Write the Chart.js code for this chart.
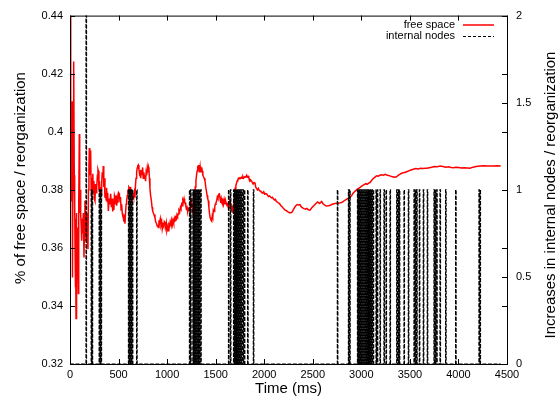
<!DOCTYPE html>
<html>
<head>
<meta charset="utf-8">
<script src="https://cdn.jsdelivr.net/npm/chart.js@4/dist/chart.umd.min.js"></script>
<style>
  body { margin: 0; background: #fff; }
  #wrap { width: 558px; height: 405px; position: relative; }
</style>
</head>
<body>
<div id="wrap"><canvas id="chart"></canvas></div>
<script>
// free space samples (time in ms, fraction of free space)
const timeMs = [
  0, 5, 10, 15, 21, 24, 27, 31, 35, 38, 41, 44, 48, 52, 55, 58, 62, 66, 69, 75,
  80, 86, 90, 96, 100, 105, 110, 115, 120, 125, 130, 137, 144, 150, 154, 160, 166, 172, 178, 185,
  190, 195, 199, 204, 208, 213, 218, 223, 230, 235, 240, 246, 250, 257, 263, 268, 275, 282, 288, 292,
  298, 303, 309, 315, 320, 326, 332, 338, 343, 348, 354, 360, 366, 372, 377, 383, 388, 395, 402, 410,
  419, 426, 433, 440, 446, 452, 458, 463, 470, 476, 481, 487, 494, 500, 508, 515, 520, 526, 532, 538,
  543, 549, 555, 560, 566, 572, 578, 583, 590, 596, 600, 606, 612, 618, 624, 630, 636, 642, 649, 655,
  662, 669, 675, 680, 686, 692, 698, 703, 710, 716, 722, 728, 734, 740, 748, 754, 760, 766, 772, 778,
  784, 790, 796, 802, 808, 813, 818, 823, 830, 837, 845, 851, 858, 865, 875, 882, 890, 898, 904, 909,
  916, 922, 930, 937, 944, 950, 958, 964, 971, 978, 985, 992, 998, 1005, 1012, 1018, 1025, 1032, 1040, 1047,
  1054, 1061, 1068, 1075, 1081, 1088, 1095, 1102, 1108, 1115, 1122, 1130, 1137, 1143, 1150, 1156, 1162, 1168, 1174, 1180,
  1186, 1192, 1198, 1205, 1212, 1220, 1229, 1236, 1245, 1253, 1260, 1265, 1270, 1276, 1283, 1290, 1297, 1303, 1309, 1315,
  1321, 1327, 1333, 1340, 1346, 1352, 1356, 1362, 1368, 1375, 1382, 1390, 1398, 1405, 1412, 1418, 1424, 1430, 1436, 1442,
  1448, 1454, 1459, 1465, 1470, 1476, 1483, 1490, 1496, 1503, 1510, 1517, 1524, 1531, 1538, 1545, 1552, 1558, 1565, 1572,
  1580, 1587, 1594, 1600, 1606, 1612, 1618, 1624, 1630, 1637, 1643, 1648, 1654, 1660, 1666, 1672, 1677, 1682, 1688, 1694,
  1700, 1708, 1716, 1722, 1728, 1735, 1742, 1750, 1758, 1765, 1772, 1780, 1787, 1795, 1802, 1810, 1818, 1825, 1831, 1836,
  1842, 1850, 1856, 1863, 1871, 1878, 1886, 1895, 1905, 1912, 1920, 1930, 1940, 1948, 1956, 1965, 1975, 1985, 1995, 2005,
  2015, 2025, 2035, 2045, 2055, 2065, 2075, 2085, 2094, 2105, 2115, 2125, 2135, 2145, 2155, 2162, 2172, 2182, 2192, 2202,
  2212, 2222, 2232, 2245, 2255, 2265, 2283, 2295, 2310, 2325, 2340, 2355, 2368, 2380, 2395, 2410, 2425, 2440, 2455, 2471,
  2490, 2510, 2530, 2550, 2570, 2591, 2605, 2620, 2640, 2660, 2680, 2700, 2720, 2740, 2760, 2780, 2797, 2815, 2830, 2850,
  2867, 2883, 2900, 2915, 2930, 2945, 2960, 2973, 2986, 3000, 3015, 3030, 3045, 3060, 3075, 3089, 3105, 3120, 3135, 3150,
  3158, 3175, 3190, 3210, 3230, 3245, 3261, 3280, 3300, 3320, 3340, 3364, 3380, 3395, 3410, 3425, 3440, 3450, 3465, 3480,
  3495, 3510, 3535, 3560, 3585, 3610, 3635, 3660, 3673, 3700, 3725, 3750, 3780, 3810, 3840, 3870, 3900, 3925, 3947, 3975,
  4000, 4030, 4060, 4090, 4119, 4150, 4180, 4222, 4260, 4300, 4350, 4400, 4435
];
const freeSpace = [
  0.44, 0.405, 0.376, 0.395, 0.4105, 0.37, 0.3498, 0.39, 0.405, 0.38, 0.4242, 0.385, 0.376, 0.36, 0.3464, 0.37, 0.3357, 0.372, 0.365, 0.367,
  0.355, 0.3443, 0.375, 0.3992, 0.372, 0.38, 0.3717, 0.368, 0.3625, 0.37, 0.365, 0.372, 0.3567, 0.368, 0.3762, 0.37, 0.3625, 0.372, 0.365, 0.3595,
  0.38, 0.388, 0.3944, 0.385, 0.3935, 0.3923, 0.38, 0.3786, 0.384, 0.3855, 0.379, 0.383, 0.377, 0.3762, 0.382, 0.379, 0.3807, 0.385, 0.387, 0.3865,
  0.38, 0.383, 0.3786, 0.381, 0.378, 0.382, 0.386, 0.384, 0.3882, 0.381, 0.384, 0.3773, 0.379, 0.3765, 0.3807, 0.376, 0.379, 0.3727, 0.377, 0.375,
  0.3786, 0.374, 0.377, 0.3725, 0.376, 0.373, 0.378, 0.3773, 0.375, 0.378, 0.3745, 0.377, 0.3755, 0.379, 0.3786, 0.376, 0.3775, 0.373, 0.375, 0.372,
  0.371, 0.3704, 0.369, 0.3715, 0.3683, 0.372, 0.375, 0.3762, 0.378, 0.38, 0.379, 0.381, 0.3807, 0.379, 0.381, 0.378, 0.38, 0.377, 0.378, 0.3773,
  0.379, 0.3773, 0.382, 0.384, 0.386, 0.3875, 0.3882, 0.3885, 0.387, 0.3855, 0.386, 0.384, 0.3868, 0.385, 0.3877, 0.384, 0.386, 0.3845, 0.385, 0.383,
  0.386, 0.385, 0.3875, 0.386, 0.3878, 0.387, 0.384, 0.3807, 0.378, 0.3765, 0.374, 0.3727, 0.372, 0.3715, 0.3704, 0.369, 0.3685, 0.3675, 0.368, 0.367,
  0.3695, 0.3685, 0.37, 0.368, 0.369, 0.3665, 0.368, 0.3675, 0.369, 0.3685, 0.367, 0.3685, 0.366, 0.367, 0.3659, 0.368, 0.3675, 0.369, 0.368, 0.3695,
  0.368, 0.3695, 0.3685, 0.37, 0.369, 0.3705, 0.37, 0.3715, 0.371, 0.3717, 0.373, 0.3725, 0.374, 0.3735, 0.375, 0.3745, 0.3765, 0.376, 0.3769, 0.3755,
  0.3755, 0.3745, 0.3735, 0.374, 0.3725, 0.3735, 0.3728, 0.374, 0.375, 0.3762, 0.3735, 0.372, 0.3717, 0.375, 0.378, 0.381, 0.3831, 0.385, 0.3865, 0.388,
  0.3882, 0.3885, 0.386, 0.388, 0.386, 0.387, 0.3877, 0.3865, 0.385, 0.3845, 0.384, 0.3831, 0.381, 0.3795, 0.378, 0.377, 0.3762, 0.374, 0.372, 0.3705,
  0.37, 0.3695, 0.3693, 0.371, 0.3705, 0.373, 0.3725, 0.374, 0.375, 0.3755, 0.3762, 0.3775, 0.377, 0.3785, 0.3786, 0.377, 0.3755, 0.377, 0.376, 0.3765,
  0.375, 0.3765, 0.375, 0.3765, 0.3765, 0.375, 0.3745, 0.3755, 0.3739, 0.375, 0.376, 0.3745, 0.3755, 0.374, 0.3735, 0.374, 0.3725, 0.3727, 0.375, 0.378,
  0.3805, 0.3815, 0.3824, 0.383, 0.3835, 0.384, 0.3838, 0.3841, 0.384, 0.3843, 0.384, 0.3845, 0.384, 0.3843, 0.3845, 0.3845, 0.385, 0.3843, 0.3847, 0.3847,
  0.384, 0.3835, 0.383, 0.3833, 0.383, 0.3825, 0.382, 0.3825, 0.3824, 0.381, 0.3805, 0.38, 0.3805, 0.3798, 0.3796, 0.3795, 0.379, 0.3788, 0.3793, 0.3785,
  0.3787, 0.3786, 0.378, 0.3777, 0.3779, 0.3775, 0.3772, 0.3774, 0.3769, 0.3765, 0.3767, 0.376, 0.3758, 0.3755, 0.3753, 0.375, 0.3745, 0.3742, 0.3738, 0.3735,
  0.3731, 0.3729, 0.3727, 0.3724, 0.3722, 0.3721, 0.3722, 0.3728, 0.3738, 0.3745, 0.3749, 0.3748, 0.3749, 0.3742, 0.3738, 0.3735, 0.3733, 0.3736, 0.3731, 0.373,
  0.3738, 0.3745, 0.3752, 0.3758, 0.3753, 0.376, 0.3752, 0.3748, 0.3744, 0.3745, 0.3747, 0.375, 0.3752, 0.3754, 0.3753, 0.3755, 0.3756, 0.376, 0.3764, 0.3768,
  0.3771, 0.3774, 0.378, 0.3788, 0.3793, 0.3798, 0.3802, 0.3805, 0.3808, 0.3812, 0.3815, 0.3818, 0.3821, 0.3819, 0.3823, 0.3825, 0.3832, 0.3838, 0.3842, 0.3846,
  0.3848, 0.3847, 0.385, 0.3852, 0.385, 0.3853, 0.3851, 0.3849, 0.3847, 0.3845, 0.3843, 0.3845, 0.385, 0.3853, 0.3856, 0.3858, 0.386, 0.386, 0.3862, 0.3864,
  0.3866, 0.3868, 0.3871, 0.3873, 0.3872, 0.3874, 0.3873, 0.3874, 0.3874, 0.3876, 0.3878, 0.388, 0.3879, 0.3882, 0.388, 0.3878, 0.3879, 0.3877, 0.3876, 0.3878,
  0.3877, 0.3875, 0.3876, 0.3875, 0.3874, 0.3878, 0.388, 0.3882, 0.3883, 0.3882, 0.3882, 0.3883, 0.3882
];

// reorganizations that increased the number of internal nodes
const reorgTimes = [
  165, 218, 228, 300, 310, 320, 602, 612, 622, 632, 642, 686,
  1230, 1242, 1265, 1275, 1285, 1295, 1305, 1315, 1325, 1332, 1346,
  1632, 1652, 1684, 1694, 1704, 1714, 1724, 1734, 1744, 1754, 1764, 1780, 1795, 1829, 1888,
  2753, 2867, 2880,
  2960, 2970, 2980, 2990, 3000, 3010, 3020, 3030, 3040, 3050, 3060, 3070, 3080, 3090, 3100, 3110, 3122,
  3151, 3164, 3192, 3233, 3254, 3295, 3364, 3378, 3391, 3439, 3484, 3542, 3556, 3570, 3597,
  3638, 3679, 3748, 3762, 3776, 3810, 3868, 3971, 4211, 4222
];
const reorgNodes = reorgTimes.map(t => t === 165 ? 2 : 1);

const leftTicks = [0.32, 0.34, 0.36, 0.38, 0.40, 0.42, 0.44];
const rightTicks = [0, 0.5, 1, 1.5, 2];
const timeTicks = [0, 500, 1000, 1500, 2000, 2500, 3000, 3500, 4000, 4500];

const FONT = '"Liberation Sans", Arial, Helvetica, sans-serif';
Chart.defaults.font.family = FONT;
Chart.defaults.font.size = 11;
Chart.defaults.color = '#000';

// each reorganization is drawn as a narrow step up from 0
const PULSE = 5;
const nodePoints = [{x: 0, y: 0}];
reorgTimes.forEach((t, i) => {
  nodePoints.push({x: t, y: 0}, {x: t, y: reorgNodes[i]}, {x: t + PULSE, y: reorgNodes[i]}, {x: t + PULSE, y: 0});
});
nodePoints.push({x: 4435, y: 0});

const freePoints = timeMs.map((t, i) => ({x: t, y: freeSpace[i]}));

function fmt(v) { return String(Number(v.toFixed(2))); }

// gnuplot style frame, inward ticks, key and axis titles
const frame = {
  id: 'frame',
  afterDraw(chart) {
    const {ctx, chartArea: a, scales} = chart;
    ctx.save();
    ctx.strokeStyle = '#000';
    ctx.lineWidth = 1;
    ctx.strokeRect(a.left + 0.5, a.top + 0.5, a.right - a.left, a.bottom - a.top);
    ctx.beginPath();
    timeTicks.forEach(v => {
      const px = Math.round(scales.x.getPixelForValue(v)) + 0.5;
      ctx.moveTo(px, a.bottom); ctx.lineTo(px, a.bottom - 5);
      ctx.moveTo(px, a.top); ctx.lineTo(px, a.top + 5);
    });
    leftTicks.forEach(v => {
      const py = Math.round(scales.y.getPixelForValue(v)) + 0.5;
      ctx.moveTo(a.left, py); ctx.lineTo(a.left + 5, py);
      ctx.moveTo(a.right, py); ctx.lineTo(a.right - 5, py);
    });
    rightTicks.forEach(v => {
      const py = Math.round(scales.y2.getPixelForValue(v)) + 0.5;
      ctx.moveTo(a.right, py); ctx.lineTo(a.right - 5, py);
    });
    ctx.stroke();

    // key
    ctx.font = '11px ' + FONT;
    ctx.fillStyle = '#000';
    ctx.textAlign = 'right';
    ctx.textBaseline = 'middle';
    ctx.fillText('free space', 455, 25);
    ctx.fillText('internal nodes', 455, 36);
    ctx.strokeStyle = '#ff0000';
    ctx.lineWidth = 1.5;
    ctx.beginPath(); ctx.moveTo(463, 25); ctx.lineTo(494, 25); ctx.stroke();
    ctx.strokeStyle = '#000';
    ctx.lineWidth = 1;
    ctx.setLineDash([3, 2]);
    ctx.beginPath(); ctx.moveTo(463, 36.5); ctx.lineTo(494, 36.5); ctx.stroke();
    ctx.setLineDash([]);

    // axis titles
    ctx.font = '15px ' + FONT;
    ctx.textAlign = 'center';
    ctx.fillText('Time (ms)', (a.left + a.right) / 2, 389);
    ctx.save();
    ctx.translate(21, 178);
    ctx.rotate(-Math.PI / 2);
    ctx.fillText('% of free space / reorganization', 0, 0);
    ctx.restore();
    ctx.save();
    ctx.translate(551, 195);
    ctx.rotate(-Math.PI / 2);
    ctx.fillText('Increases in internal nodes / reorganization', 0, 0);
    ctx.restore();
    ctx.restore();
  }
};

new Chart(document.getElementById('chart'), {
  type: 'line',
  data: {
    datasets: [
      {
        label: 'internal nodes',
        data: nodePoints,
        yAxisID: 'y2',
        borderColor: '#000',
        borderWidth: 1.2,
        borderDash: [4, 1.5],
        pointRadius: 0,
        tension: 0,
        order: 1
      },
      {
        label: 'free space',
        data: freePoints,
        yAxisID: 'y',
        borderColor: '#ff0000',
        borderWidth: 1.5,
        pointRadius: 0,
        tension: 0,
        order: 2
      }
    ]
  },
  options: {
    responsive: true,
    maintainAspectRatio: false,
    animation: false,
    layout: { padding: { top: 14, left: 0, right: 0, bottom: 0 } },
    plugins: { legend: { display: false }, tooltip: { enabled: false } },
    scales: {
      x: {
        type: 'linear',
        min: 0, max: 4500,
        afterBuildTicks: s => { s.ticks = timeTicks.map(v => ({value: v})); },
        afterFit: s => { s.height = 41; },
        grid: { display: false, drawTicks: false },
        border: { display: false },
        ticks: { padding: 4, maxRotation: 0, autoSkip: false, callback: v => String(v) }
      },
      y: {
        position: 'left',
        min: 0.32, max: 0.44,
        afterBuildTicks: s => { s.ticks = leftTicks.map(v => ({value: v})); },
        afterFit: s => { s.width = 70; },
        grid: { display: false, drawTicks: false },
        border: { display: false },
        ticks: { padding: 7, autoSkip: false, callback: v => fmt(v) }
      },
      y2: {
        position: 'right',
        min: 0, max: 2,
        afterBuildTicks: s => { s.ticks = rightTicks.map(v => ({value: v})); },
        afterFit: s => { s.width = 51; },
        grid: { display: false, drawTicks: false },
        border: { display: false },
        ticks: { padding: 9, autoSkip: false, callback: v => fmt(v) }
      }
    }
  },
  plugins: [frame]
});
</script>
</body>
</html>
